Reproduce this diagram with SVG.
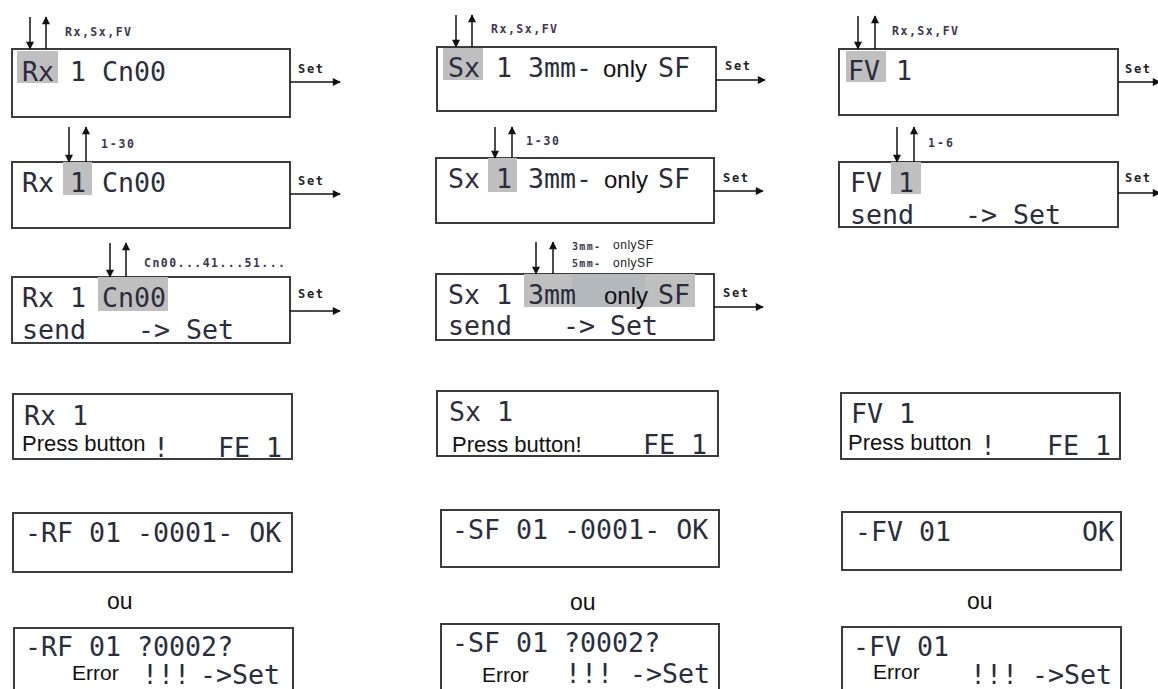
<svg xmlns="http://www.w3.org/2000/svg" width="1158" height="689" viewBox="0 0 1158 689">
<style>
.box{fill:#fff;stroke:#3c3c3c;stroke-width:2}
.hl{fill:#bfbfbf}
.lcd{font-family:"DejaVu Sans Mono","Liberation Mono",monospace;font-size:26.6px;fill:#2a2d3e}
.ar{font-family:"Liberation Sans",Arial,sans-serif;font-size:23px;fill:#111}
.sm{font-family:"DejaVu Sans Mono","Liberation Mono",monospace;font-size:11.5px;font-weight:bold;fill:#3d3650}
.sma{font-family:"Liberation Sans",Arial,sans-serif;font-size:12px;fill:#222}
.set{font-family:"DejaVu Sans Mono","Liberation Mono",monospace;font-size:12px;font-weight:bold;fill:#222}
.ln{stroke:#111;stroke-width:1.5;fill:none}
</style>
<defs>
<marker id="ah" viewBox="0 0 10 10" refX="9" refY="5" markerWidth="10" markerHeight="8" markerUnits="userSpaceOnUse" orient="auto">
<path d="M0,0 L10,5 L0,10 z" fill="#111"/>
</marker>
</defs>
<rect width="1158" height="689" fill="#fff"/>

<!-- Column 1 -->
<g id="rx-select">
<rect class="box" x="12" y="49" width="278" height="68"/>
<rect class="hl" x="17" y="51" width="41" height="32"/>
<text class="lcd" x="22" y="81">Rx 1 Cn00</text>
<text class="sm" x="65" y="36" textLength="66">Rx,Sx,FV</text>
<text class="set" x="298" y="73" textLength="25">Set</text>
</g>
<g id="rx-number">
<rect class="box" x="12" y="162" width="278" height="66"/>
<rect class="hl" x="63" y="162" width="29" height="33"/>
<text class="lcd" x="22" y="192">Rx 1 Cn00</text>
<text class="sm" x="101" y="148" textLength="33">1-30</text>
<text class="set" x="298" y="185" textLength="25">Set</text>
</g>
<g id="rx-channel">
<rect class="box" x="12" y="277" width="278" height="66"/>
<rect class="hl" x="98" y="277" width="70" height="34"/>
<text class="lcd" x="22" y="307">Rx 1 Cn00</text>
<text class="lcd" x="22" y="339">send</text>
<text class="lcd" x="138" y="339">-&gt;</text>
<text class="lcd" x="186" y="339">Set</text>
<text class="sm" x="144" y="267" textLength="141">Cn00...41...51...</text>
<text class="set" x="298" y="298" textLength="25">Set</text>
</g>
<g id="rx-press">
<rect class="box" x="13" y="394" width="279" height="65"/>
<text class="lcd" x="24" y="425">Rx 1</text>
<text class="ar" x="22" y="451" style="font-size:22px">Press button</text>
<text class="lcd" x="153" y="457">!</text>
<text class="lcd" x="218" y="457">FE 1</text>
</g>
<g id="rx-ok">
<rect class="box" x="13" y="513" width="279" height="59"/>
<text class="lcd" x="25" y="542">-RF 01 -0001- OK</text>
</g>
<text class="ar" x="107" y="609">ou</text>
<g id="rx-error">
<rect class="box" x="14" y="628" width="279" height="80"/>
<text class="lcd" x="25" y="656">-RF 01 ?0002?</text>
<text class="ar" x="72" y="680" style="font-size:21px">Error</text>
<text class="lcd" x="142" y="684">!!!</text>
<text class="lcd" x="200" y="684">-&gt;Set</text>
</g>

<!-- Column 2 -->
<g id="sx-select">
<rect class="box" x="437" y="47" width="279" height="64"/>
<rect class="hl" x="443" y="48" width="40" height="32"/>
<text class="lcd" x="448" y="77">Sx 1 3mm-</text>
<text class="ar" x="603" y="77" style="font-size:24px">only</text>
<text class="lcd" x="658" y="77">SF</text>
<text class="sm" x="491" y="33" textLength="66">Rx,Sx,FV</text>
<text class="set" x="725" y="70" textLength="25">Set</text>
</g>
<g id="sx-number">
<rect class="box" x="436" y="158" width="278" height="65"/>
<rect class="hl" x="488" y="158" width="29" height="34"/>
<text class="lcd" x="448" y="188">Sx 1 3mm-</text>
<text class="ar" x="604" y="188" style="font-size:24px">only</text>
<text class="lcd" x="658" y="188">SF</text>
<text class="sm" x="526" y="145" textLength="33">1-30</text>
<text class="set" x="723" y="182" textLength="25">Set</text>
</g>
<g id="sx-size">
<rect class="box" x="436" y="274" width="278" height="66"/>
<rect class="hl" x="524" y="274" width="171" height="33"/>
<rect x="572" y="274" width="73" height="33" rx="3" fill="#b4b9be"/>
<text class="lcd" x="448" y="304">Sx 1 3mm</text>
<text class="ar" x="604" y="304" style="font-size:24px">only</text>
<text class="lcd" x="658" y="304">SF</text>
<text class="lcd" x="448" y="335">send</text>
<text class="lcd" x="563" y="335">-&gt;</text>
<text class="lcd" x="610" y="335">Set</text>
<text class="sm" x="572" y="250" textLength="28" style="font-size:10px">3mm-</text>
<text class="sma" x="613" y="249" textLength="40">onlySF</text>
<text class="sm" x="572" y="267" textLength="28" style="font-size:10px">5mm-</text>
<text class="sma" x="613" y="267" textLength="40">onlySF</text>
<text class="set" x="723" y="297" textLength="25">Set</text>
</g>
<g id="sx-press">
<rect class="box" x="437" y="391" width="281" height="65"/>
<text class="lcd" x="449" y="421">Sx 1</text>
<text class="ar" x="452" y="452" style="font-size:22px">Press button!</text>
<text class="lcd" x="643" y="454">FE 1</text>
</g>
<g id="sx-ok">
<rect class="box" x="441" y="510" width="278" height="57"/>
<text class="lcd" x="452" y="539">-SF 01 -0001- OK</text>
</g>
<text class="ar" x="570" y="610">ou</text>
<g id="sx-error">
<rect class="box" x="441" y="624" width="278" height="80"/>
<text class="lcd" x="452" y="652">-SF 01 ?0002?</text>
<text class="ar" x="482" y="682" style="font-size:21px">Error</text>
<text class="lcd" x="565" y="683">!!!</text>
<text class="lcd" x="630" y="683">-&gt;Set</text>
</g>

<!-- Column 3 -->
<g id="fv-select">
<rect class="box" x="839" y="49" width="279" height="66"/>
<rect class="hl" x="846" y="51" width="40" height="31"/>
<text class="lcd" x="848" y="80">FV 1</text>
<text class="sm" x="892" y="35" textLength="66">Rx,Sx,FV</text>
<text class="set" x="1125" y="73" textLength="25">Set</text>
</g>
<g id="fv-number">
<rect class="box" x="839" y="162" width="279" height="65"/>
<rect class="hl" x="891" y="162" width="30" height="32"/>
<text class="lcd" x="850" y="192">FV 1</text>
<text class="lcd" x="850" y="224">send</text>
<text class="lcd" x="965" y="224">-&gt;</text>
<text class="lcd" x="1013" y="224">Set</text>
<text class="sm" x="928" y="147" textLength="25">1-6</text>
<text class="set" x="1125" y="182" textLength="25">Set</text>
</g>
<g id="fv-press">
<rect class="box" x="841" y="393" width="279" height="66"/>
<text class="lcd" x="851" y="423">FV 1</text>
<text class="ar" x="848" y="450" style="font-size:22px">Press button</text>
<text class="lcd" x="980" y="455">!</text>
<text class="lcd" x="1047" y="455">FE 1</text>
</g>
<g id="fv-ok">
<rect class="box" x="842" y="512" width="279" height="58"/>
<text class="lcd" x="855" y="541">-FV 01</text>
<text class="lcd" x="1082" y="541">OK</text>
</g>
<text class="ar" x="967" y="609">ou</text>
<g id="fv-error">
<rect class="box" x="842" y="627" width="279" height="80"/>
<text class="lcd" x="853" y="656">-FV 01</text>
<text class="ar" x="873" y="679" style="font-size:21px">Error</text>
<text class="lcd" x="970" y="684">!!!</text>
<text class="lcd" x="1032" y="684">-&gt;Set</text>
</g>

<!-- Connectors -->
<g id="connectors">
<line class="ln" x1="30" y1="17" x2="30" y2="49" marker-end="url(#ah)"/>
<line class="ln" x1="46" y1="49" x2="46" y2="17" marker-end="url(#ah)"/>
<line class="ln" x1="290" y1="82" x2="340" y2="82" marker-end="url(#ah)"/>
<line class="ln" x1="69" y1="127" x2="69" y2="162" marker-end="url(#ah)"/>
<line class="ln" x1="86" y1="162" x2="86" y2="127" marker-end="url(#ah)"/>
<line class="ln" x1="290" y1="194" x2="340" y2="194" marker-end="url(#ah)"/>
<line class="ln" x1="110" y1="243" x2="110" y2="277" marker-end="url(#ah)"/>
<line class="ln" x1="126" y1="277" x2="126" y2="243" marker-end="url(#ah)"/>
<line class="ln" x1="290" y1="311" x2="340" y2="311" marker-end="url(#ah)"/>

<line class="ln" x1="456" y1="15" x2="456" y2="47" marker-end="url(#ah)"/>
<line class="ln" x1="472" y1="47" x2="472" y2="15" marker-end="url(#ah)"/>
<line class="ln" x1="716" y1="80" x2="765" y2="80" marker-end="url(#ah)"/>
<line class="ln" x1="495" y1="127" x2="495" y2="158" marker-end="url(#ah)"/>
<line class="ln" x1="512" y1="158" x2="512" y2="127" marker-end="url(#ah)"/>
<line class="ln" x1="714" y1="191" x2="763" y2="191" marker-end="url(#ah)"/>
<line class="ln" x1="536" y1="242" x2="536" y2="274" marker-end="url(#ah)"/>
<line class="ln" x1="553" y1="274" x2="553" y2="242" marker-end="url(#ah)"/>
<line class="ln" x1="714" y1="307" x2="763" y2="307" marker-end="url(#ah)"/>

<line class="ln" x1="858" y1="16" x2="858" y2="49" marker-end="url(#ah)"/>
<line class="ln" x1="875" y1="49" x2="875" y2="16" marker-end="url(#ah)"/>
<line class="ln" x1="1118" y1="82" x2="1160" y2="82" marker-end="url(#ah)"/>
<line class="ln" x1="897" y1="127" x2="897" y2="162" marker-end="url(#ah)"/>
<line class="ln" x1="914" y1="162" x2="914" y2="127" marker-end="url(#ah)"/>
<line class="ln" x1="1118" y1="193" x2="1160" y2="193" marker-end="url(#ah)"/>
</g>
</svg>
